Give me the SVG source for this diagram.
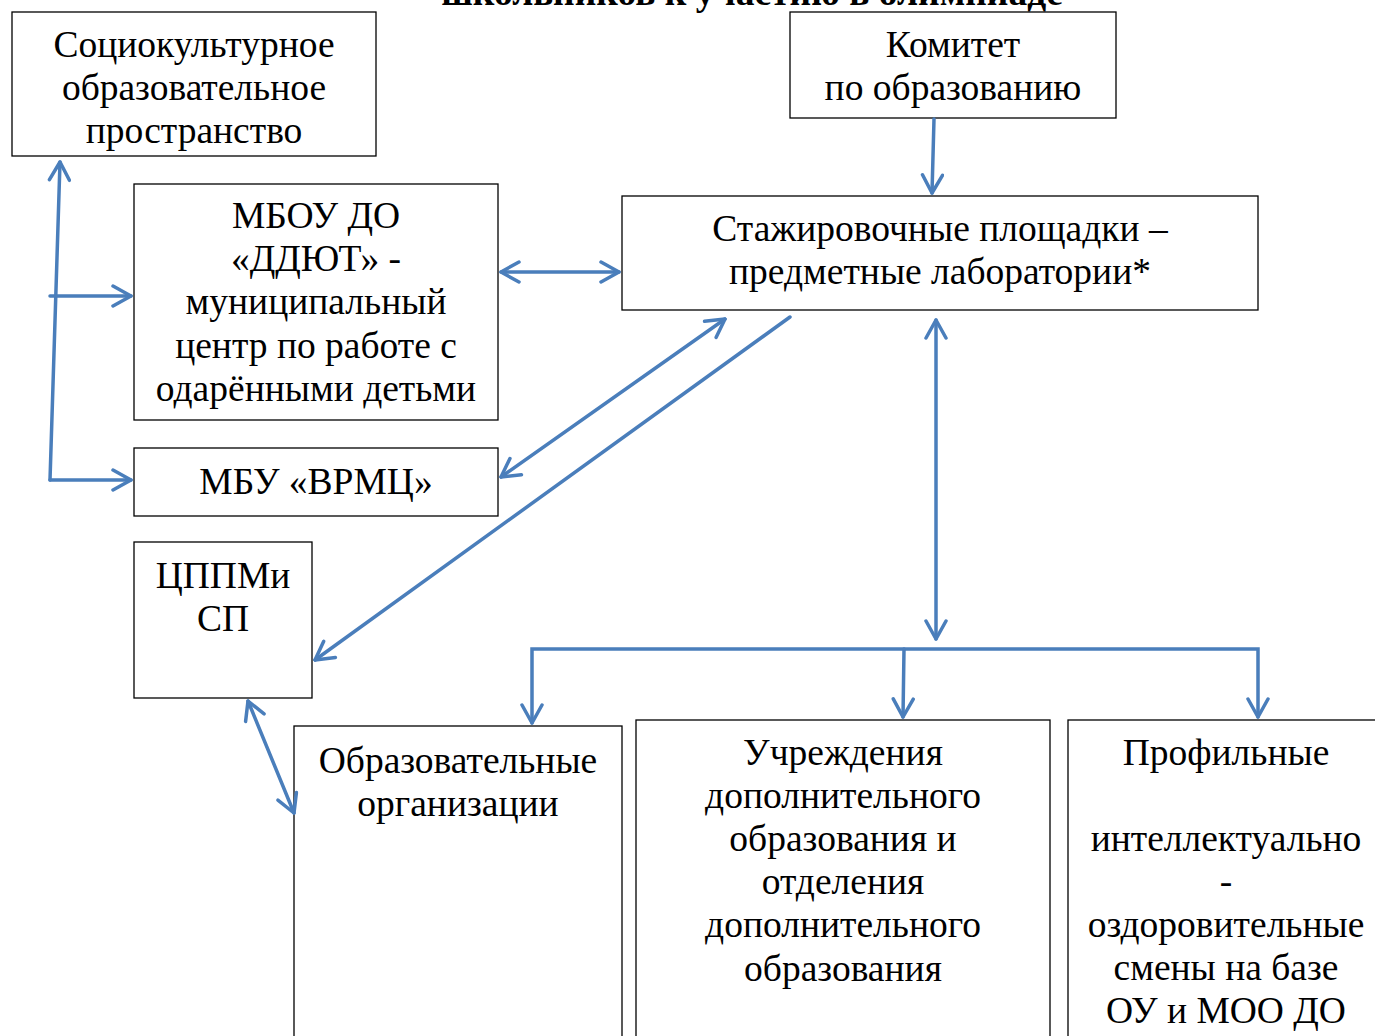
<svg xmlns="http://www.w3.org/2000/svg" width="1375" height="1036" viewBox="0 0 1375 1036">
<style>
.box{fill:#fff;stroke:#000;stroke-width:1.3}
.t{font-family:"Liberation Serif","Times New Roman",serif;font-size:37.5px;fill:#000;text-anchor:middle}
.c{fill:none;stroke:#4a7ebb;stroke-width:3.5;stroke-linecap:round}
</style>
<defs>
<marker id="ah" markerUnits="userSpaceOnUse" viewBox="-22 -12 24 24" refX="0" refY="0" markerWidth="24" markerHeight="24" orient="auto-start-reverse">
<path d="M-18,-10 L0,0 L-18,10" fill="none" stroke="#4a7ebb" stroke-width="3.5" stroke-linecap="round" stroke-linejoin="round"/>
</marker>
</defs>
<rect width="1375" height="1036" fill="#fff"/>
<text class="t" x="752" y="5" style="font-weight:bold">школьников к участию в олимпиаде</text>
<g id="n1"><rect class="box" x="12" y="12" width="364" height="144"/>
<text class="t" x="194" y="57">Социокультурное</text><text class="t" x="194" y="100">образовательное</text><text class="t" x="194" y="143">пространство</text></g>
<g id="n2"><rect class="box" x="790" y="12" width="326" height="106"/>
<text class="t" x="953" y="57">Комитет</text><text class="t" x="953" y="100">по образованию</text></g>
<g id="n3"><rect class="box" x="134" y="184" width="364" height="236"/>
<text class="t" x="316" y="228">МБОУ ДО</text><text class="t" x="316" y="271">«ДДЮТ» -</text><text class="t" x="316" y="314">муниципальный</text><text class="t" x="316" y="358">центр по работе с</text><text class="t" x="316" y="401">одарёнными детьми</text></g>
<g id="n4"><rect class="box" x="622" y="196" width="636" height="114"/>
<text class="t" x="940" y="241">Стажировочные площадки –</text><text class="t" x="940" y="284">предметные лаборатории*</text></g>
<g id="n5"><rect class="box" x="134" y="448" width="364" height="68"/>
<text class="t" x="316" y="494">МБУ «ВРМЦ»</text></g>
<g id="n6"><rect class="box" x="134" y="542" width="178" height="156"/>
<text class="t" x="223" y="588">ЦППМи</text><text class="t" x="223" y="631">СП</text></g>
<g id="n7"><rect class="box" x="294" y="726" width="328" height="320"/>
<text class="t" x="458" y="773">Образовательные</text><text class="t" x="458" y="816">организации</text></g>
<g id="n8"><rect class="box" x="636" y="720" width="414" height="330"/>
<text class="t" x="843" y="765">Учреждения</text><text class="t" x="843" y="808">дополнительного</text><text class="t" x="843" y="851">образования и</text><text class="t" x="843" y="894">отделения</text><text class="t" x="843" y="937">дополнительного</text><text class="t" x="843" y="981">образования</text></g>
<g id="n9"><rect class="box" x="1068" y="720" width="320" height="330"/>
<text class="t" x="1226" y="765">Профильные</text><text class="t" x="1226" y="851">интеллектуально</text><text class="t" x="1226" y="894">-</text><text class="t" x="1226" y="937">оздоровительные</text><text class="t" x="1226" y="980">смены на базе</text><text class="t" x="1226" y="1023">ОУ и МОО ДО</text></g>
<g id="connectors">
<path class="c" d="M50,480 L60,162" marker-end="url(#ah)"/>
<path class="c" d="M50,296 L131,296" marker-end="url(#ah)"/>
<path class="c" d="M50,480 L131,480" marker-end="url(#ah)"/>
<path class="c" d="M501,272 L619,272" marker-start="url(#ah)" marker-end="url(#ah)"/>
<path class="c" d="M501,477 L725,319" marker-start="url(#ah)" marker-end="url(#ah)"/>
<path class="c" d="M790,317 L315,660" marker-end="url(#ah)"/>
<path class="c" d="M934,119 L932,193" marker-end="url(#ah)"/>
<path class="c" d="M936,320 L936,639" marker-start="url(#ah)" marker-end="url(#ah)"/>
<path class="c" d="M532,723 L532,649 L1258,649 L1258,717" marker-start="url(#ah)" marker-end="url(#ah)"/>
<path class="c" d="M904,649 L903,717" marker-end="url(#ah)"/>
<path class="c" d="M248,701 L294,813" marker-start="url(#ah)" marker-end="url(#ah)"/>
</g>
</svg>
